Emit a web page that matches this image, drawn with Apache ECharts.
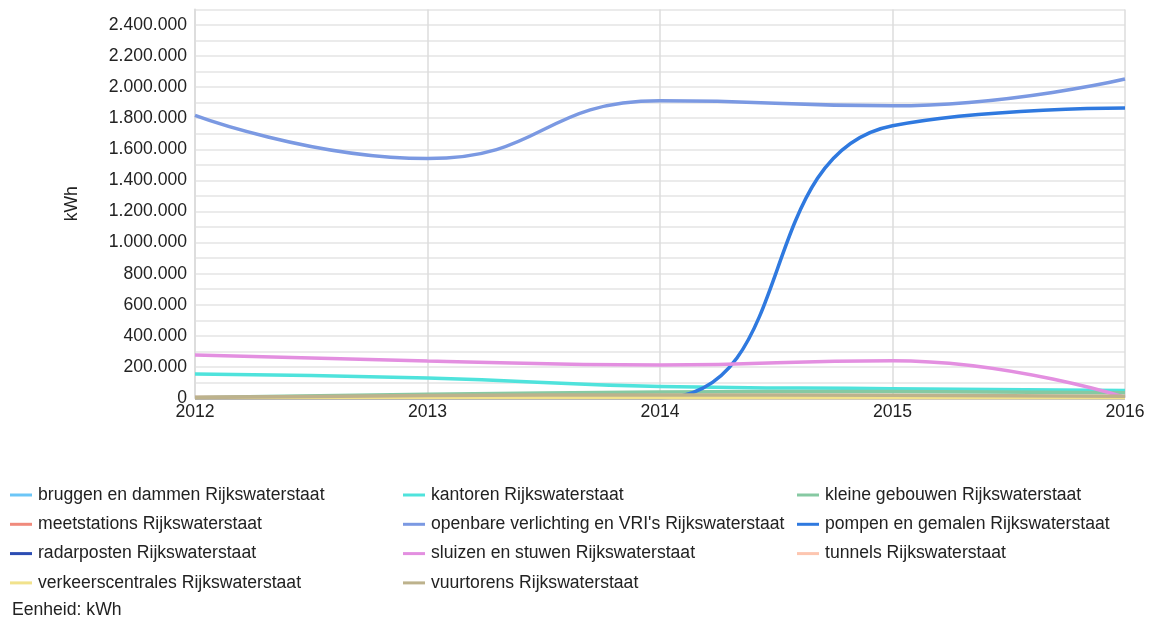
<!DOCTYPE html>
<html>
<head>
<meta charset="utf-8">
<title>Energieverbruik Rijkswaterstaat</title>
<script src="https://cdn.jsdelivr.net/npm/echarts@6/dist/echarts.min.js"></script>
<style>
  html, body { margin: 0; padding: 0; background: #ffffff; }
  #chart { width: 1150px; height: 624px; }
</style>
</head>
<body>
<div id="chart"></div>
<script>
// Jaren op de x-as
const years = ['2012', '2013', '2014', '2015', '2016'];

// Verbruik per objectsoort (kWh)
const bruggenEnDammen      = [2000, 2000, 3000, 3000, 2000];
const kantoren             = [154000, 128000, 74000, 60000, 48000];
const kleineGebouwen       = [4000, 24000, 38000, 42000, 34000];
const meetstations         = [3000, 5000, 7000, 7000, 5000];
const openbareVerlichting  = [1818000, 1540000, 1912000, 1880000, 2052000];
const pompenEnGemalen      = [0, 0, 0, 1752000, 1866000];
const radarposten          = [1000, 1000, 1000, 1000, 1000];
const sluizenEnStuwen      = [276000, 238000, 212000, 240000, 4000];
const tunnels              = [1000, 1000, 1000, 1000, 1000];
const verkeerscentrales    = [1000, 1000, 1000, 1000, 1000];
const vuurtorens           = [3000, 16000, 20000, 18000, 12000];

// Labels van de y-as (alleen elke 200.000)
const yTickLabels = ['0', '200.000', '400.000', '600.000', '800.000', '1.000.000',
  '1.200.000', '1.400.000', '1.600.000', '1.800.000', '2.000.000', '2.200.000', '2.400.000'];

const seriesDefs = [
  { name: 'bruggen en dammen Rijkswaterstaat', data: bruggenEnDammen, color: '#6cc6f7' },
  { name: 'kantoren Rijkswaterstaat', data: kantoren, color: '#4fe3dc' },
  { name: 'kleine gebouwen Rijkswaterstaat', data: kleineGebouwen, color: '#86c9a2' },
  { name: 'meetstations Rijkswaterstaat', data: meetstations, color: '#f08a7c' },
  { name: "openbare verlichting en VRI's Rijkswaterstaat", data: openbareVerlichting, color: '#7b99e2' },
  { name: 'pompen en gemalen Rijkswaterstaat', data: pompenEnGemalen, color: '#2f79df' },
  { name: 'radarposten Rijkswaterstaat', data: radarposten, color: '#2c4db3' },
  { name: 'sluizen en stuwen Rijkswaterstaat', data: sluizenEnStuwen, color: '#e38fe0' },
  { name: 'tunnels Rijkswaterstaat', data: tunnels, color: '#fdc6b0' },
  { name: 'verkeerscentrales Rijkswaterstaat', data: verkeerscentrales, color: '#f1e28c' },
  { name: 'vuurtorens Rijkswaterstaat', data: vuurtorens, color: '#bdb28c' }
];

const font = 'Arial, "Liberation Sans", sans-serif';
const fontSize = 17.6;
const textColor = '#222222';

// Legenda in drie kolommen, rijgewijs gevuld
const legendColumns = [[], [], []];
seriesDefs.forEach((s, i) => legendColumns[i % 3].push(s.name));
const legendLeft = [10, 403, 797];

const legends = legendColumns.map((names, c) => ({
  data: names,
  orient: 'vertical',
  left: legendLeft[c],
  top: 486,
  icon: 'rect',
  itemWidth: 22,
  itemHeight: 3,
  itemGap: 11.3,
  padding: 0,
  selectedMode: false,
  textStyle: { fontFamily: font, fontSize: fontSize, color: textColor, padding: [0, 0, 0, 1] }
}));

const chart = echarts.init(document.getElementById('chart'), null, { renderer: 'canvas' });

chart.setOption({
  backgroundColor: '#ffffff',
  animation: false,
  title: {
    text: 'Eenheid: kWh',
    left: 12,
    top: 601,
    padding: 0,
    textStyle: { fontFamily: font, fontSize: fontSize, fontWeight: 'normal', color: textColor }
  },
  legend: legends,
  grid: { left: 195, right: 25, top: 9.4, bottom: 226, containLabel: false },
  xAxis: {
    type: 'category',
    data: years,
    boundaryGap: false,
    axisLine: { show: false },
    axisTick: { show: false },
    axisLabel: { fontFamily: font, fontSize: fontSize, color: textColor, margin: 5 },
    splitLine: { show: true, lineStyle: { color: '#dddddd', width: 1.5 } }
  },
  yAxis: {
    type: 'value',
    min: 0,
    max: 2500000,
    interval: 100000,
    name: 'kWh',
    nameLocation: 'middle',
    nameGap: 114,
    nameTextStyle: { fontFamily: font, fontSize: fontSize, color: textColor },
    axisLine: { show: true, lineStyle: { color: '#dddddd', width: 2 } },
    axisTick: { show: false },
    axisLabel: {
      fontFamily: font, fontSize: fontSize, color: textColor, margin: 8,
      formatter: function (v) {
        const idx = Math.round(v / 200000);
        if (Math.abs(v - idx * 200000) > 1 || idx >= yTickLabels.length) return '';
        return yTickLabels[idx];
      }
    },
    splitLine: { show: true, lineStyle: { color: '#e4e4e4', width: 1.5 } }
  },
  series: seriesDefs.map(s => ({
    name: s.name,
    type: 'line',
    data: s.data,
    smooth: 0.5,
    showSymbol: false,
    symbol: 'none',
    color: s.color,
    lineStyle: { width: 3.5, color: s.color },
    emphasis: { disabled: true }
  }))
});
</script>
</body>
</html>
